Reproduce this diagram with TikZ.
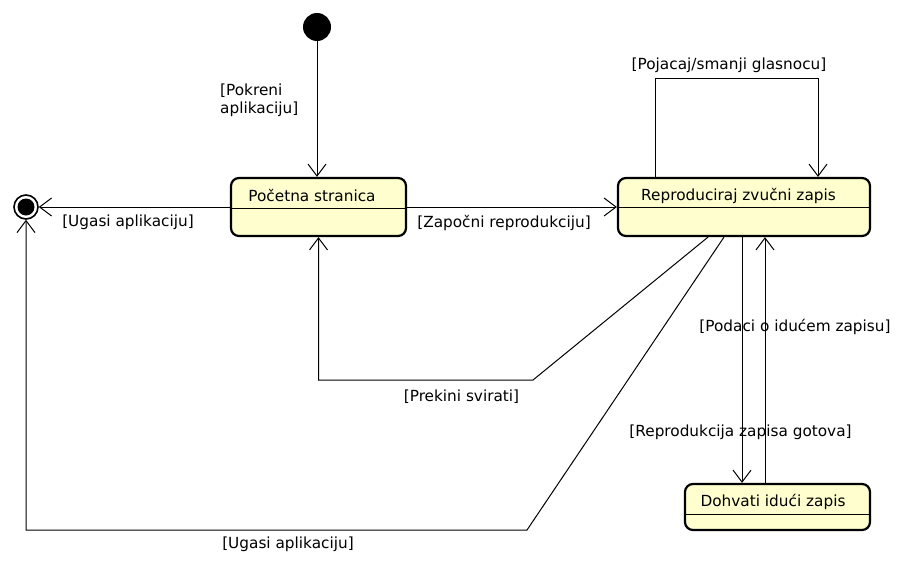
\documentclass[tikz,border=0pt]{standalone}
\usepackage{fontspec}
\setmainfont{DejaVu Sans}
\definecolor{StateFill}{HTML}{FEFECE}
\usetikzlibrary{arrows.meta, calc}

\tikzset{
  state/.style = {draw, line width = 2.2pt, rounded corners = 8pt, fill = StateFill},
  trans/.style = {line width = 1pt, -{Straight Barb[length = 12pt, width = 18pt, line width = 1pt]}},
  txt/.style   = {font = \fontsize{15.3}{18}\selectfont, inner sep = 0pt},
}

\begin{document}
\begin{tikzpicture}[x = 1pt, y = -1pt]
\useasboundingbox (0, 0) rectangle (920, 565);

% start and end
\node[circle, fill = black, minimum size = 28pt, inner sep = 0pt] (start) at (317, 27) {};
\node[circle, draw, line width = 1.6pt, fill = white, minimum size = 24pt, inner sep = 0pt] (end) at (26, 207) {};
\node[circle, fill = black, minimum size = 17pt, inner sep = 0pt] (endcore) at (end) {};

% states
\node[state, minimum width = 175pt, minimum height = 58pt] (home) at (318.5, 207) {};
\node[state, minimum width = 252pt, minimum height = 58pt] (play) at (744, 207) {};
\node[state, minimum width = 185pt, minimum height = 46pt] (next) at (777.5, 507) {};

\draw[line width = 1pt] ($(home.west)+(0, 1)$) -- ($(home.east)+(0, 1)$);
\draw[line width = 1pt] (play.west) -- (play.east);
\draw[line width = 1pt] ($(next.west)+(0, 7)$) -- ($(next.east)+(0, 7)$);

\node[txt, anchor = base] (homename) at (312, 201) {Početna stranica};
\node[txt, anchor = base] (playname) at (738.5, 200) {Reproduciraj zvučni zapis};
\node[txt, anchor = base] (nextname) at (773, 506) {Dohvati idući zapis};

% transitions
\draw[trans] (start.south) -- (start.south |- home.north);
\node[txt, anchor = base west, align = left] (lblstart) at (220, 113) {[Pokreni\\aplikaciju]};

\draw[trans] (home.west) -- (end.east);
\node[txt, anchor = base] (lblquit) at (128, 226) {[Ugasi aplikaciju]};

\draw[trans] (home.east) -- (play.west);
\node[txt, anchor = base] (lblplay) at (504, 227) {[Započni reprodukciju]};

\draw[trans] ([xshift = -89pt]play.north) -- ++(0, -98) -| ([xshift = 74pt]play.north);
\node[txt, anchor = base] (lblvolume) at (729, 69) {[Pojacaj/smanji glasnocu]};

\coordinate (stopbend) at (533, 380);
\draw[trans] ([xshift = -36pt]play.south) -- (stopbend) -| (home.south);
\node[txt, anchor = base] (lblstop) at (461.5, 401.5) {[Prekini svirati]};

\coordinate (quitbend) at (527, 530);
\draw[trans] ([xshift = -20pt]play.south) -- (quitbend) -| (end.south);
\node[txt, anchor = base] (lblquitplay) at (288, 548) {[Ugasi aplikaciju]};

\draw[trans] ([xshift = -2pt]play.south) -- ([xshift = -2pt]play.south |- next.north);
\node[txt, anchor = base] (lbldone) at (740.5, 436) {[Reprodukcija zapisa gotova]};

\draw[trans] ([xshift = 21pt]play.south |- next.north) -- ([xshift = 21pt]play.south);
\node[txt, anchor = base] (lbldata) at (795, 331) {[Podaci o idućem zapisu]};

\end{tikzpicture}
\end{document}
